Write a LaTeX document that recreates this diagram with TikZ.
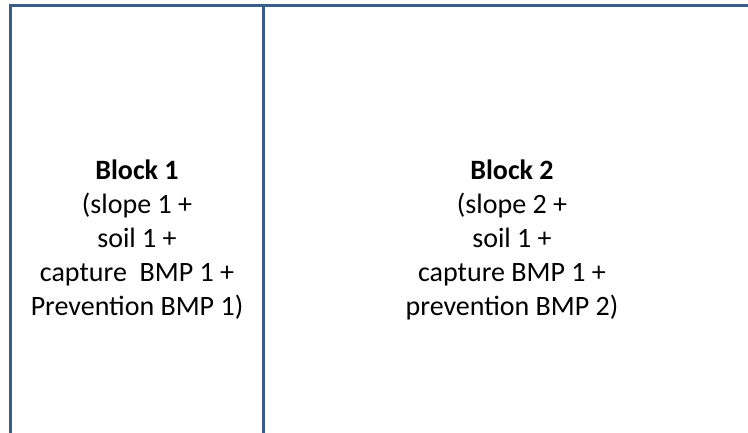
\documentclass[tikz,border=0pt]{standalone}
\usepackage{fontspec}
\setmainfont{Carlito}
\usetikzlibrary{calc}
\definecolor{edgeblue}{HTML}{385D8A}

\begin{document}
\begin{tikzpicture}[x=1pt,y=1pt,
		wall/.style={draw=edgeblue, line width=3pt},
		every node/.style={align=center, font=\fontsize{28}{34}\selectfont, inner sep=0pt}]
				\useasboundingbox (0,0) rectangle (748,433);
				%corners of the frame placed by hand
				\coordinate (bl) at (10.5,0);\coordinate (tl) at (10.5,427.5);
				\coordinate (bm) at (263.5,0);\coordinate (tm) at (263.5,427.5);
				\coordinate (tr) at (748,427.5);
				%% frame lines
				\draw [wall](bl) -- (tl) -- (tr);
				\draw [wall](bm) -- (tm);
				%% block texts
				\node (block1) at (137,193){\textbf{Block 1}\\(slope 1 +\\soil 1 +\\capture~ BMP 1 +\\Prevention BMP 1)};
				\node (block2) at (512,193){\textbf{Block 2}\\(slope 2 +\\soil 1 +\\capture BMP 1 +\\prevention BMP 2)};
				\end{tikzpicture}
\end{document}
